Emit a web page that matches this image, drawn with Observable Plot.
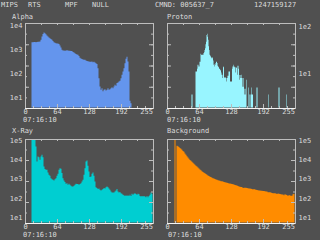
<!DOCTYPE html>
<html><head><meta charset="utf-8">
<script src="https://cdn.jsdelivr.net/npm/d3@7"></script>
<script src="https://cdn.jsdelivr.net/npm/@observablehq/plot@0.6"></script>
<style>
html,body{margin:0;padding:0;background:#505050;}
#root{position:relative;width:320px;height:240px;overflow:hidden;background:#505050;font-family:"DejaVu Sans Mono",monospace;font-size:7px;color:#dcdcdc;}
.t{position:absolute;line-height:8px;white-space:pre;}
</style></head><body><div id="root"></div>
<script>
// ---- header / labels ----
const headerItems = ["MIPS", "RTS", "MPF", "NULL", "CMND: 005637_7", "1247159127"];
const panelTitles = ["Alpha", "Proton", "X-Ray", "Background"];
const timeLabel = "07:16:10";
const xTickLabels = [0, 64, 128, 192, 255];

// ---- Alpha: counts per 2-channel bin (128 bins) ----
const alphaCounts = [
  0,0,0,0,0,0,0,
  1870,1870,1900,1900,1850,1900,1950,1950,2000,2330,
  3200,4100,4700,4400,4000,3500,3200,2900,2730,2550,
  2330,2100,1870,1750,1700,1650,1650,1550,1350,1120,
  900,840,840,820,840,860,840,820,820,800,
  800,730,700,650,600,570,557,500,420,390,
  370,355,345,345,320,310,300,294,285,285,
  294,275,285,265,251,230,156,60,27,20,
  23,17,20,21,18.5,20,23,20,21,23,
  25,23,27,32,29,38,40,44,47,60,
  82,113,156,251,380,460,294,113,6.9,5.5,
  0,0,0,0,0,0,0,0,0,0,0,0,0,0,0,0,0,0,0,0,0
];

// ---- Proton: counts per single channel (256 channels) ----
const protonCounts = [
  0,0,0,0,0,0,0,0,0,0,0,0,0,0,0,0,
  0,0,0,0,0,0,0,0,0,0,0,0,0,0,0,0,
  0,0,0,0,0,0,0,0,0,0,0,0,0,0,0,0,
  0,0,3.4,3.4,0,0,0,0,0,0,10.5,10.5,10.5,12,14.6,14.6,
  13.4,13.4,17,17,25,24,24,24,24,24,26,27,30,33,40,45,
  63,67,58,50,36,30,24,23,22,21,20,20,21,18,14.6,15,
  13.4,14.6,16,17,17,16,14,13.4,13,12,12,11,11.5,10,9,9,
  7.6,13,13.4,7.6,8,8,7.6,7.6,6.4,7.6,8.5,8.5,10.5,10.5,10.5,6.4,
  6.4,6.4,6.4,12,13.4,13.4,14.6,13,13.4,10,13,13,12.4,9,14,14,
  12,7,8.9,8.9,7.6,7.6,9,5,7.6,7.6,5,3.4,4.5,4.5,3.4,0,
  7,0,0,0,4.8,0,3.4,3.4,0,4.8,3.4,3.4,3.4,0,0,0,
  0,0,0,0,4.8,4.8,0,0,0,0,0,0,0,0,0,0,
  0,0,0,0,0,0,0,0,0,0,0,0,3.4,0,0,0,
  0,0,0,0,0,0,0,0,0,0,0,0,0,0,0,0,
  4.8,4.8,0,0,0,0,0,0,0,0,0,0,0,0,0,0,
  3.4,0,0,0,0,0,0,0,0,0,0,0,0,0,0,0
];

// ---- X-Ray: counts per 2-channel bin (128 bins) ----
const xrayCounts = [
  0,0,0,0,0,0,0,
  200000,200000,200000,200000,
  42500,7200,13000,12000,8700,13000,15800,12000,3960,2900,
  2670,2670,1950,1475,1300,990,880,815,750,880,
  990,1300,1650,2670,3250,3000,1800,990,750,620,
  510,548,450,510,450,400,369,369,400,450,
  510,490,490,450,490,548,670,815,1475,3250,
  7200,8000,4300,2190,1120,1210,1650,1950,1300,670,
  340,303,270,290,248,230,248,270,303,290,
  340,369,340,290,248,204,180,180,180,204,
  230,270,204,180,190,167,155,137,130,120,
  130,120,130,120,137,120,155,137,155,167,
  150,137,155,145,120,113,120,113,120,113,
  102,120,102,120,137,180,155
];

// ---- Background: counts per 2-channel bin (128 bins) ----
const backgroundCounts = [
  0,0,0,0,0,0,0,0,
  200000,0,
  46000,44000,40000,36000,32300,28500,25000,22500,18500,15800,
  13500,11500,10000,8500,7800,7000,6200,5500,4900,4300,
  3900,3500,3100,2800,2500,2250,2050,1900,1750,1600,
  1480,1360,1260,1180,1120,1050,990,940,890,850,
  810,780,740,720,695,680,660,630,610,593,
  575,555,530,520,505,490,480,460,445,432,
  410,390,370,360,345,345,310,320,315,315,
  305,300,291,290,280,270,255,270,255,248,
  240,235,229,225,222,221,218,212,208,204,
  205,185,188,183,178,170,167,165,163,161,
  150,162,154,150,147,143,141,128,145,137,
  133,120,135,125,123,122,145,155
];

const root = document.getElementById("root");
function addText(str, x, cy) {
  const s = document.createElement("div");
  s.className = "t";
  s.textContent = str;
  s.style.left = x + "px";
  s.style.top = (cy - 4) + "px";
  root.appendChild(s);
}

// step-histogram points: one per bin start plus a closing point at the end
function stepPoints(counts, width) {
  const pts = counts.map((v, i) => ({c: i * width, v}));
  pts.push({c: counts.length * width, v: counts[counts.length - 1]});
  return pts;
}

const W = 160, H = 108;
function drawPanel(o) {
  const isLeft = o.side === "left";
  const mL = isLeft ? 25 : 7, mR = isLeft ? 7 : 25, mT = o.marginTop, mB = 20;
  const plotH = H - mT - mB;
  const [lo, hi] = o.yDomain;
  const at = k => lo * Math.pow(hi / lo, k / 8);
  const minor = [1, 2, 3, 4, 5, 6, 7].map(at);
  const major = [2, 4, 6].map(at);
  const fc = "#bdbdbd";
  const svg = Plot.plot({
    width: W, height: H,
    marginLeft: mL, marginRight: mR, marginTop: mT, marginBottom: mB,
    x: {domain: [0, 256]},
    y: {type: "log", domain: o.yDomain},
    style: {background: "transparent", color: "#dcdcdc", fontFamily: "'DejaVu Sans Mono', monospace", fontSize: "7px", overflow: "visible"},
    marks: [
      Plot.areaY(o.points, {x: "c", y1: lo, y2: d => Math.max(d.v, lo), curve: "step-after",
        fill: o.color, clip: true, dx: -0.5, dy: -0.5}),
      Plot.frame({stroke: fc}),
      Plot.ruleY([lo], {stroke: "#f4f4f4"}),
      Plot.tickX(d3.range(16, 256, 16), {stroke: fc, insetTop: plotH - 2}),
      Plot.tickX([64, 128, 192], {stroke: fc, insetTop: plotH - 4}),
      Plot.tickX(d3.range(32, 256, 32), {stroke: fc, insetBottom: plotH - 2}),
      Plot.ruleY(minor, {x1: 0, x2: 4, stroke: fc}),
      Plot.ruleY(minor, {x1: 252, x2: 256, stroke: fc}),
      Plot.ruleY(major, {x1: 0, x2: 8, stroke: fc}),
      Plot.ruleY(major, {x1: 248, x2: 256, stroke: fc}),
      Plot.axisX(xTickLabels.slice(0, -1), {tickSize: 0, tickPadding: 1, label: null}),
      Plot.axisX(xTickLabels.slice(-1), {tickSize: 0, tickPadding: 1, textAnchor: "end", label: null}),
      Plot.axisY(o.yLabels, {anchor: isLeft ? "left" : "right", tickSize: 0, tickPadding: 3,
        tickFormat: d => "1e" + Math.round(Math.log10(d)), label: null})
    ]
  });
  svg.style.position = "absolute";
  svg.style.left = o.left + "px";
  svg.style.top = o.top + "px";
  root.appendChild(svg);
}

drawPanel({points: stepPoints(alphaCounts, 2), color: "#6495ed", yDomain: [3.63, 12200],
  yLabels: [10, 100, 1000, 10000], side: "left", left: 0, top: 20, marginTop: 3});
drawPanel({points: stepPoints(protonCounts, 1), color: "#98f5ff", yDomain: [1.8, 116],
  yLabels: [10, 100], side: "right", left: 160, top: 20, marginTop: 3});
drawPanel({points: stepPoints(xrayCounts, 2), color: "#00ced1", yDomain: [5.1, 110000],
  yLabels: [10, 100, 1000, 10000, 100000], side: "left", left: 0, top: 135, marginTop: 4});
drawPanel({points: stepPoints(backgroundCounts, 2), color: "#ff8c00", yDomain: [5.1, 110000],
  yLabels: [10, 100, 1000, 10000, 100000], side: "right", left: 160, top: 135, marginTop: 4});

// header
const headerX = [1, 28, 65, 92, 155, 254];
headerItems.forEach((s, i) => addText(s, headerX[i], 5));
// titles
addText(panelTitles[0], 12, 17);
addText(panelTitles[1], 167, 17);
addText(panelTitles[2], 12, 131);
addText(panelTitles[3], 167, 131);
// time labels
addText(timeLabel, 23, 120);
addText(timeLabel, 167, 120);
addText(timeLabel, 23, 234.5);
addText(timeLabel, 168, 234.5);
</script></body></html>
